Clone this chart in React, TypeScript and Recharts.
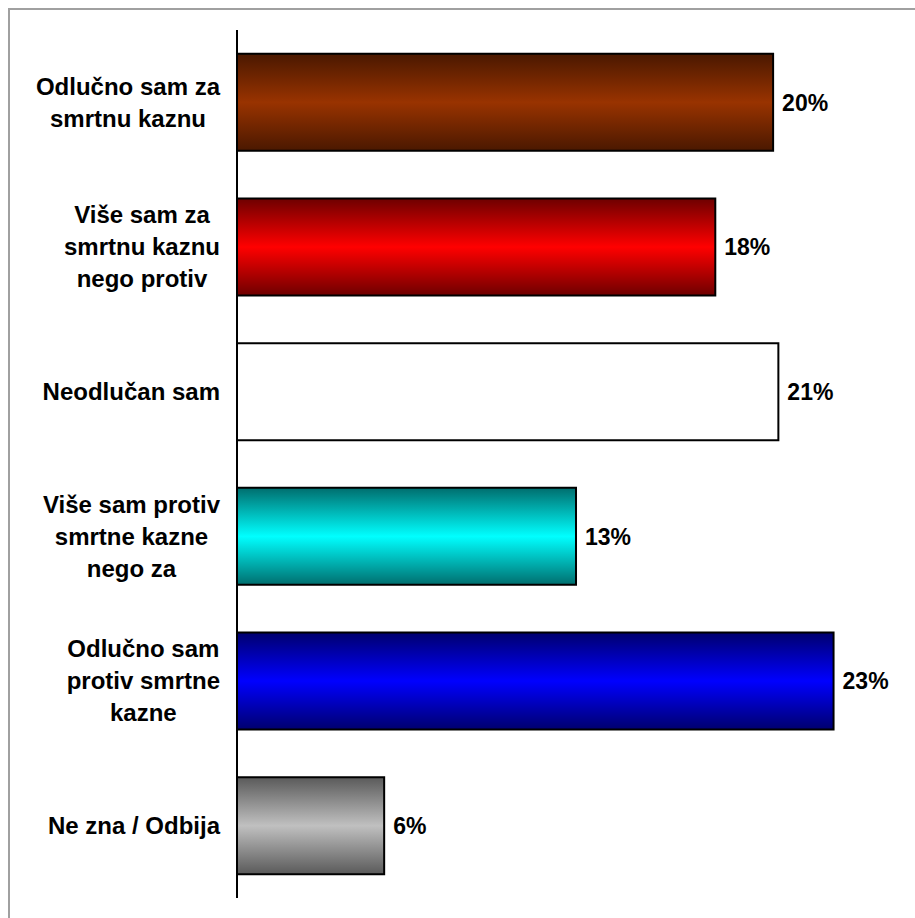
import { Bar, BarChart, Cell, LabelList, XAxis, YAxis } from "recharts";

const categories = [
  "Odlučno sam za\nsmrtnu kaznu",
  "Više sam za\nsmrtnu kaznu\nnego protiv",
  "Neodlučan sam",
  "Više sam protiv\nsmrtne kazne\nnego za",
  "Odlučno sam\nprotiv smrtne\nkazne",
  "Ne zna / Odbija",
];
const shares = [20.4, 18.2, 20.6, 12.9, 22.7, 5.6];

// [dark edge, bright middle]
const gradients = [
  ["#4a1800", "#993300"],
  ["#6e0000", "#ff0000"],
  ["#ffffff", "#ffffff"],
  ["#006e6e", "#00ffff"],
  ["#00006e", "#0000ff"],
  ["#5a5a5a", "#c0c0c0"],
];

const data = categories.map((name, i) => ({ name, value: shares[i] }));

const FONT = "'Liberation Sans', Arial, sans-serif";
const FS = 24;
const VFS = 23;

let ctx: CanvasRenderingContext2D | null = null;
function textWidth(s: string) {
  if (!ctx) ctx = document.createElement("canvas").getContext("2d");
  if (!ctx) return s.length * FS * 0.55;
  ctx.font = `bold ${FS}px ${FONT}`;
  return ctx.measureText(s).width;
}

function CategoryTick(props: any) {
  const { x, y, payload } = props;
  const lines = String(payload.value).split("\n");
  const maxW = Math.max(...lines.map(textWidth));
  const cx = x - maxW / 2;
  const lh = 32;
  const y0 = y - ((lines.length - 1) * lh) / 2;
  return (
    <g>
      {lines.map((l, i) => (
        <text
          key={i}
          x={cx}
          y={y0 + i * lh}
          dy="0.35em"
          textAnchor="middle"
          fontFamily={FONT}
          fontWeight="bold"
          fontSize={FS}
          fill="#000"
        >
          {l}
        </text>
      ))}
    </g>
  );
}

export default function App() {
  return (
    <div
      style={{
        position: "absolute",
        left: 0,
        top: 0,
        width: 915,
        height: 918,
        overflow: "hidden",
        background: "#fff",
      }}
    >
      <div
        style={{
          position: "absolute",
          left: 8,
          top: 8,
          width: 920,
          height: 920,
          borderLeft: "2px solid #a0a0a0",
          borderTop: "2px solid #a0a0a0",
        }}
      />
      <div style={{ position: "absolute", left: 0, top: 0 }}>
        <BarChart
          width={915}
          height={918}
          data={data}
          layout="vertical"
          margin={{ top: 30, right: 21, bottom: 20, left: 0 }}
          barCategoryGap="16.5%"
        >
          <defs>
            {gradients.map(([dark, bright], i) => (
              <linearGradient key={i} id={`g${i}`} x1="0" y1="0" x2="0" y2="1">
                <stop offset="0%" stopColor={dark} />
                <stop offset="50%" stopColor={bright} />
                <stop offset="100%" stopColor={dark} />
              </linearGradient>
            ))}
          </defs>
          <XAxis type="number" domain={[0, 25]} hide />
          <YAxis
            type="category"
            dataKey="name"
            width={237}
            axisLine={{ stroke: "#000", strokeWidth: 2 }}
            tickLine={false}
            tickSize={0}
            tickMargin={17}
            tick={<CategoryTick />}
            interval={0}
          />
          <Bar dataKey="value" isAnimationActive={false} stroke="#000" strokeWidth={2}>
            {data.map((_, i) => (
              <Cell key={i} fill={`url(#g${i})`} />
            ))}
            <LabelList
              dataKey="value"
              position="right"
              offset={9}
              formatter={(v: any) => `${Math.round(Number(v))}%`}
              style={{ fontFamily: FONT, fontWeight: "bold", fontSize: VFS, fill: "#000" }}
            />
          </Bar>
        </BarChart>
      </div>
    </div>
  );
}
